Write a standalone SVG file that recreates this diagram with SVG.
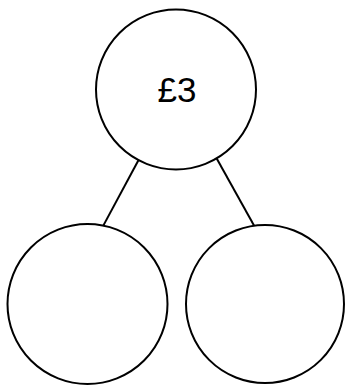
<svg xmlns="http://www.w3.org/2000/svg" width="345" height="386" viewBox="0 0 345 386">
<style>
.n{fill:#fff;stroke:#000;stroke-width:2}
.c line{stroke:#000;stroke-width:2}
.t{font-family:"Liberation Sans",Arial,sans-serif;font-size:35px;fill:#000;text-anchor:middle}
</style>
<rect width="345" height="386" fill="#fff"/>
<g id="connectors" class="c">
<line x1="138.3" y1="160.5" x2="103.3" y2="225.6"/>
<line x1="216.7" y1="158.6" x2="254.3" y2="226"/>
</g>
<g id="top"><circle class="n" cx="176" cy="89.5" r="80"/><text class="t" x="177" y="102">£3</text></g>
<g id="left"><circle class="n" cx="87.5" cy="304" r="80"/></g>
<g id="right"><circle class="n" cx="265" cy="304" r="79"/></g>
</svg>
